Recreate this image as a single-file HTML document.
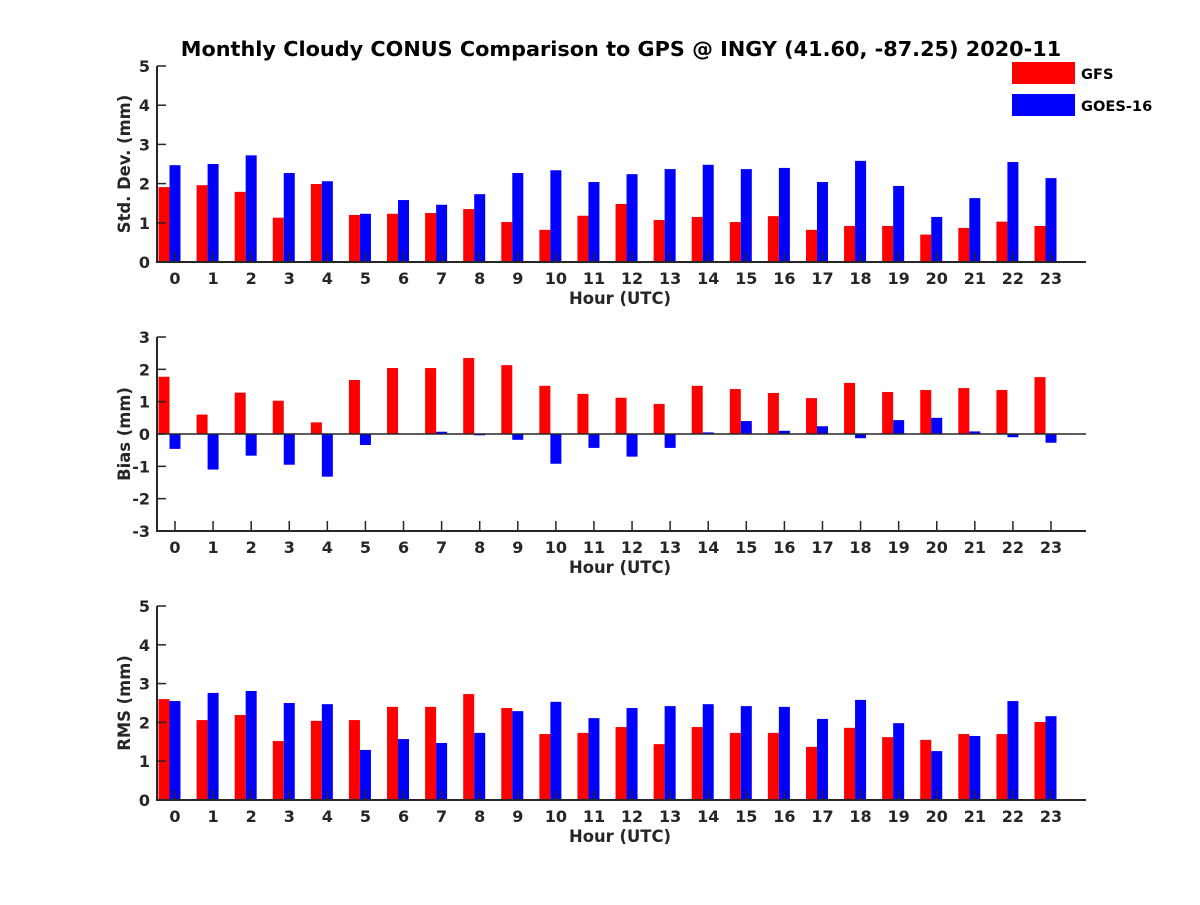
<!DOCTYPE html>
<html><head><meta charset="utf-8"><style>
body{margin:0;background:#fff}
text{font-family:"DejaVu Sans","Liberation Sans",sans-serif;font-weight:bold;fill:#262626}
</style></head><body>
<svg id="c" width="1200" height="900" xmlns="http://www.w3.org/2000/svg">
<text x="621" y="56" font-size="20.8" text-anchor="middle" style="fill:#000">Monthly Cloudy CONUS Comparison to GPS @ INGY (41.60, -87.25) 2020-11</text>
<g>
<rect x="1012" y="62" width="63" height="22" fill="#ff0000"/>
<text x="1081" y="79" font-size="14.6" style="fill:#000">GFS</text>
<rect x="1012" y="94" width="63" height="22" fill="#0000ff"/>
<text x="1081" y="111" font-size="14.6" style="fill:#000">GOES-16</text>
</g>
</svg>
<script>
const hours=[0,1,2,3,4,5,6,7,8,9,10,11,12,13,14,15,16,17,18,19,20,21,22,23];
const stdGFS=[1.91,1.96,1.79,1.13,1.99,1.2,1.23,1.25,1.35,1.02,0.82,1.18,1.48,1.07,1.15,1.02,1.17,0.82,0.92,0.92,0.7,0.87,1.03,0.92];
const stdGOES=[2.47,2.5,2.72,2.27,2.06,1.23,1.58,1.46,1.73,2.27,2.34,2.04,2.24,2.37,2.48,2.37,2.4,2.04,2.58,1.94,1.15,1.63,2.55,2.14];
const biasGFS=[1.77,0.6,1.28,1.03,0.36,1.67,2.04,2.04,2.35,2.13,1.49,1.24,1.12,0.93,1.49,1.39,1.27,1.11,1.58,1.3,1.36,1.42,1.36,1.76];
const biasGOES=[-0.46,-1.1,-0.67,-0.95,-1.32,-0.34,0,0.07,-0.04,-0.18,-0.92,-0.43,-0.7,-0.43,0.05,0.4,0.1,0.24,-0.13,0.43,0.5,0.08,-0.1,-0.27];
const rmsGFS=[2.6,2.06,2.19,1.52,2.04,2.06,2.4,2.4,2.73,2.37,1.7,1.73,1.88,1.44,1.88,1.73,1.73,1.37,1.86,1.62,1.55,1.7,1.7,2.01];
const rmsGOES=[2.55,2.76,2.81,2.5,2.47,1.29,1.57,1.47,1.73,2.29,2.53,2.11,2.37,2.42,2.47,2.42,2.4,2.09,2.58,1.98,1.26,1.65,2.55,2.16];
const stdTicks=[0,1,2,3,4,5];
const biasTicks=[-3,-2,-1,0,1,2,3];
const rmsTicks=[0,1,2,3,4,5];

const svg=document.getElementById('c');
const NS='http://www.w3.org/2000/svg';
function mk(tag,attrs,parent){const e=document.createElementNS(NS,tag);for(const k in attrs)e.setAttribute(k,attrs[k]);(parent||svg).appendChild(e);return e;}
const X0=157,X1=1086;
function xs(h){return 175+h*(1051-175)/23;}

function panel(name,top,bottom,ymin,ymax,ticks,ylabel,gfs,goes,zeroLine){
  const g=mk('g',{});
  
  
  const ys=v=>bottom-(v-ymin)/(ymax-ymin)*(bottom-top);
  hours.forEach((h,i)=>{
    const t=xs(h);
    const y0=ys(Math.max(ymin,0));
    const r=mk('rect',{x:t-16.5,y:Math.min(ys(gfs[i]),y0),width:11,height:Math.abs(ys(gfs[i])-y0),fill:'#ff0000'},g);
    
    
    const b=mk('rect',{x:t-5.5,y:Math.min(ys(goes[i]),y0),width:11,height:Math.abs(ys(goes[i])-y0),fill:'#0000ff'},g);
    
    
    const tk=mk('line',{x1:t,x2:t,y1:bottom,y2:bottom-10,stroke:'#262626','stroke-width':1.5},g);
    
    
    const lb=mk('text',{x:t,y:bottom+22,'font-size':16,'text-anchor':'middle'},g);
    
    
    lb.textContent=h;
  });
  if(zeroLine){
    const z=mk('line',{x1:X0,x2:X1,y1:ys(0),y2:ys(0),stroke:'#262626','stroke-width':1.5},g);
    
    
  }
  const ax=mk('path',{d:`M${X0},${top}L${X0},${bottom}L${X1},${bottom}`,fill:'none',stroke:'#262626','stroke-width':2},g);
  
  
  ticks.forEach(v=>{
    const y=ys(v);
    const tl=mk('line',{x1:X0,x2:X0+9,y1:y,y2:y,stroke:'#262626','stroke-width':1.5},g);
    
    
    const tt=mk('text',{x:X0-7,y:y+6,'font-size':16,'text-anchor':'end'},g);
    
    
    tt.textContent=v;
  });
  const xl=mk('text',{x:620,y:bottom+42,'font-size':16.4,'text-anchor':'middle'},g);
  
  
  xl.textContent='Hour (UTC)';
  const cy=(top+bottom)/2;
  const yl=mk('text',{x:130,y:cy,'font-size':16.4,'text-anchor':'middle',transform:`rotate(-90 130 ${cy})`},g);
  
  
  yl.textContent=ylabel;
}
panel('std',66,262,0,5,stdTicks,'Std. Dev. (mm)',stdGFS,stdGOES,false);
panel('bias',337,531,-3,3,biasTicks,'Bias (mm)',biasGFS,biasGOES,true);
panel('rms',606,800,0,5,rmsTicks,'RMS (mm)',rmsGFS,rmsGOES,false);
</script>
</body></html>
